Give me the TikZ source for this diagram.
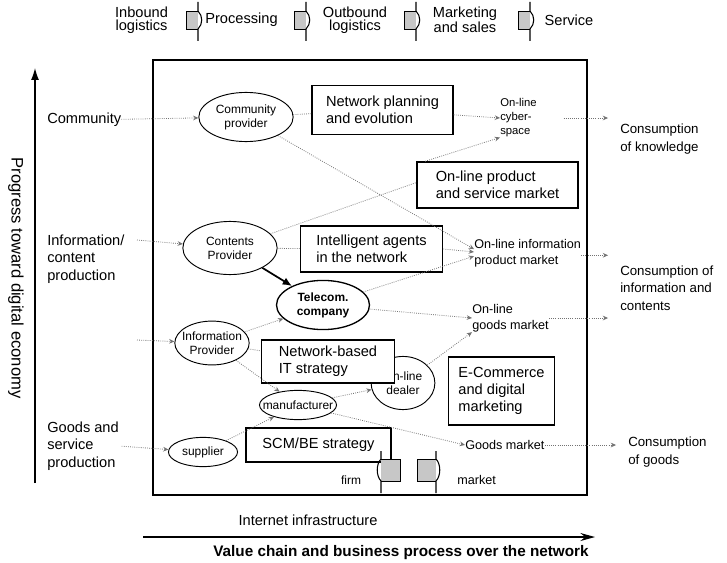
\documentclass[tikz,border=0pt]{standalone}
\usepackage{fontspec}
\setmainfont{Liberation Sans}
\usetikzlibrary{shapes.geometric,arrows.meta}
\begin{document}
\begin{tikzpicture}[scale=0.2646]
\tikzstyle{every node}+=[inner sep=0pt]
\tikzstyle{actor}=[draw=black, ellipse, line width=0.7pt, fill=white, align=center, font=\fontsize{9}{10.5}\selectfont]
\tikzstyle{strategy}=[draw=black, line width=1.2pt, fill=white, align=left, font=\fontsize{11}{13}\selectfont]
\tikzstyle{market}=[anchor=west, align=left, font=\fontsize{9.5}{12}\selectfont]
\tikzstyle{consume}=[anchor=west, align=left, font=\fontsize{10}{13}\selectfont]
\tikzstyle{sector}=[anchor=west, align=left, font=\fontsize{11}{13}\selectfont]
\tikzstyle{stage}=[align=center, font=\fontsize{11}{9.5}\selectfont]
\tikzstyle{link}=[draw=black!55, densely dotted, line width=0.6pt]
\tikzstyle{flow}=[link, -{Stealth[length=4pt,width=3.5pt]}]
\useasboundingbox (0,0) rectangle (72.7,-56.3);
\node[stage] (inbound) at (14.15,-2.0) {Inbound\\logistics};
\node[stage] (processing) at (24.15,-2.0) {Processing};
\node[stage] (outbound) at (35.5,-2.0) {Outbound\\logistics};
\node[stage] (marketing) at (46.5,-2.0) {Marketing\\and sales};
\node[stage] (service) at (56.9,-2.0) {Service};
\fill [black!22] (18.6,-1.1) rectangle (19.8,-2.9);
\draw [black, line width=0.4pt] (19.8,-1.1) -- (18.6,-1.1) -- (18.6,-2.9) -- (19.8,-2.9);
\draw [black, line width=0.8pt] (19.8,-0.2) -- (19.8,-1.1) .. controls (20.3,-1.6) and (20.3,-2.4) .. (19.8,-2.9) -- (19.8,-4.1);
\fill [black!22] (29.4,-1.1) rectangle (30.6,-2.9);
\draw [black, line width=0.4pt] (30.6,-1.1) -- (29.4,-1.1) -- (29.4,-2.9) -- (30.6,-2.9);
\draw [black, line width=0.8pt] (30.6,-0.2) -- (30.6,-1.1) .. controls (31.1,-1.6) and (31.1,-2.4) .. (30.6,-2.9) -- (30.6,-4.1);
\fill [black!22] (40.4,-1.1) rectangle (41.6,-2.9);
\draw [black, line width=0.4pt] (41.6,-1.1) -- (40.4,-1.1) -- (40.4,-2.9) -- (41.6,-2.9);
\draw [black, line width=0.8pt] (41.6,-0.2) -- (41.6,-1.1) .. controls (42.1,-1.6) and (42.1,-2.4) .. (41.6,-2.9) -- (41.6,-4.1);
\fill [black!22] (51.8,-1.1) rectangle (53.0,-2.9);
\draw [black, line width=0.4pt] (53.0,-1.1) -- (51.8,-1.1) -- (51.8,-2.9) -- (53.0,-2.9);
\draw [black, line width=0.8pt] (53.0,-0.2) -- (53.0,-1.1) .. controls (53.5,-1.6) and (53.5,-2.4) .. (53.0,-2.9) -- (53.0,-4.1);
\coordinate (pbase) at (3.5,-48.3);
\coordinate (ptop) at (3.5,-6.8);
\draw [black, line width=0.9pt, -{Latex[length=9pt,width=6pt]}] (pbase) -- (ptop);
\node[rotate=-90, font=\fontsize{12.5}{14}\selectfont] (progress) at (1.6,-27.8) {Progress toward digital economy};
\draw [black, line width=2pt] (15.3,-6.0) rectangle (58.7,-49.5);
\node[sector] (community) at (4.7,-12.0) {Community};
\node[sector] (content) at (4.7,-25.9) {Information/\\content\\production};
\node[sector] (goods) at (4.7,-44.6) {Goods and\\service\\production};
\node[actor, minimum width=71pt, minimum height=37pt] (cprov) at (24.6,-11.7) {Community\\provider};
\node[strategy, minimum width=106pt, minimum height=37pt] (netplan) at (38.25,-11.0) {Network planning\\and evolution};
\node[market, font=\fontsize{8.5}{10.5}\selectfont] (cyber) at (50.0,-11.8) {On-line\\cyber-\\space};
\node[consume] (knowl) at (62.0,-13.9) {Consumption\\of knowledge};
\node[strategy, minimum width=121pt, minimum height=34.5pt] (prodmkt) at (49.75,-18.5) {On-line product\\and service market};
\node[actor, minimum width=71pt, minimum height=40pt] (contprov) at (23.0,-24.8) {Contents\\Provider};
\node[strategy, minimum width=107pt, minimum height=34.5pt] (agents) at (37.15,-24.9) {Intelligent agents\\in the network};
\node[market] (infomkt) at (47.4,-25.3) {On-line information\\product market};
\node[consume] (infocons) at (62.0,-28.8) {Consumption of\\information and\\contents};
\node[actor, minimum width=70pt, minimum height=37pt, line width=1pt, font=\bfseries\fontsize{9}{10.5}\selectfont] (telecom) at (32.3,-30.5) {Telecom.\\company};
\node[market] (olgoods) at (47.2,-31.8) {On-line\\goods market};
\node[actor, minimum width=56pt, minimum height=33pt, inner xsep=-4pt] (infoprov) at (21.2,-34.3) {Information\\Provider};
\node[actor, minimum width=48pt, minimum height=40pt] (dealer) at (40.3,-38.3) {On-line\\dealer};
\node[strategy, minimum width=100pt, minimum height=32pt] (netit) at (32.8,-36.15) {Network-based\\IT strategy};
\node[strategy, minimum width=80pt, minimum height=51pt] (ecom) at (50.15,-39.1) {E-Commerce\\and digital\\marketing};
\node[actor, minimum width=58pt, minimum height=22pt, inner xsep=-6pt] (manuf) at (29.8,-40.5) {manufacturer};
\node[actor, minimum width=52pt, minimum height=22pt] (supplier) at (20.3,-45.2) {supplier};
\node[strategy, minimum width=109pt, minimum height=25.5pt] (scm) at (31.85,-44.5) {SCM/BE strategy};
\node[market] (goodsmkt) at (46.5,-44.5) {Goods market};
\node[consume] (goodscons) at (62.8,-45.2) {Consumption\\of goods};
\node[font=\fontsize{9}{10}\selectfont] (firm) at (35.1,-48.0) {firm};
\node[market] (mkt) at (45.7,-48.0) {market};
\fill [black!22] (38.1,-45.9) rectangle (40.0,-48.1);
\draw [black, line width=0.4pt] (38.1,-45.9) -- (40.0,-45.9) -- (40.0,-48.1) -- (38.1,-48.1);
\draw [black, line width=0.8pt] (38.1,-45.1) -- (38.1,-45.9) .. controls (37.6,-46.4) and (37.6,-47.6) .. (38.1,-48.1) -- (38.1,-49.3);
\fill [black!22] (41.7,-45.9) rectangle (43.6,-48.1);
\draw [black, line width=0.4pt] (43.6,-45.9) -- (41.7,-45.9) -- (41.7,-48.1) -- (43.6,-48.1);
\draw [black, line width=0.8pt] (43.6,-45.1) -- (43.6,-45.9) .. controls (44.1,-46.4) and (44.1,-47.6) .. (43.6,-48.1) -- (43.6,-49.3);
\node[font=\fontsize{11}{13}\selectfont] (infra) at (30.8,-52.0) {Internet infrastructure};
\coordinate (vstart) at (14.3,-53.7);
\coordinate (vend) at (59.5,-53.7);
\draw [black, line width=1pt, -{Stealth[length=11pt,width=6pt]}] (vstart) -- (vend);
\node[font=\bfseries\fontsize{11.5}{13}\selectfont] (valuechain) at (40.1,-55.3) {Value chain and business process over the network};
\coordinate (contentin) at (13.7,-24.0);
\coordinate (providerin) at (13.7,-34.0);
\draw [flow] (community) -- (cprov);
\draw [flow] (contentin) -- (contprov);
\draw [flow] (providerin) -- (infoprov);
\draw [flow, shorten <=2pt] (goods.east) -- (supplier);
\draw [link] (cprov) -- (netplan);
\draw [flow] (netplan) -- (cyber.west);
\draw [flow, shorten <=20pt, shorten >=9pt] (cyber.east) -- (cyber.east -| knowl.west);
\draw [flow] (cprov) -- ([yshift=11pt]infomkt.west);
\draw [link] (contprov) -- ([yshift=7pt]prodmkt.west);
\draw [flow] ([xshift=25pt]prodmkt.north west) -- (cyber.south west);
\draw [link] (contprov) -- (agents);
\draw [flow] (agents.east) -- ([yshift=3pt]infomkt.west);
\draw [flow] (telecom) -- ([yshift=-9pt]infomkt.west);
\draw [black, line width=1.3pt, -{Latex[length=7pt,width=6pt]}] (contprov) -- (telecom);
\draw [flow] (telecom) -- (olgoods.west);
\draw [flow, shorten >=9pt] ([yshift=-6.5pt]infomkt.east) -- ([yshift=-6.5pt]infomkt.east -| infocons.west);
\draw [flow, shorten >=9pt] (olgoods.east) -- (olgoods.east -| infocons.west);
\draw [flow] (infoprov) -- (telecom);
\draw [link] (infoprov) -- (netit);
\draw [flow] (infoprov) -- (manuf);
\draw [flow] (supplier) -- (manuf);
\draw [flow] (manuf) -- (dealer);
\draw [flow] (dealer) -- (olgoods.south west);
\draw [flow] (manuf) -- (goodsmkt.west);
\draw [flow, shorten >=9pt] (goodsmkt.east) -- (goodsmkt.east -| goodscons.west);
\end{tikzpicture}
\end{document}
